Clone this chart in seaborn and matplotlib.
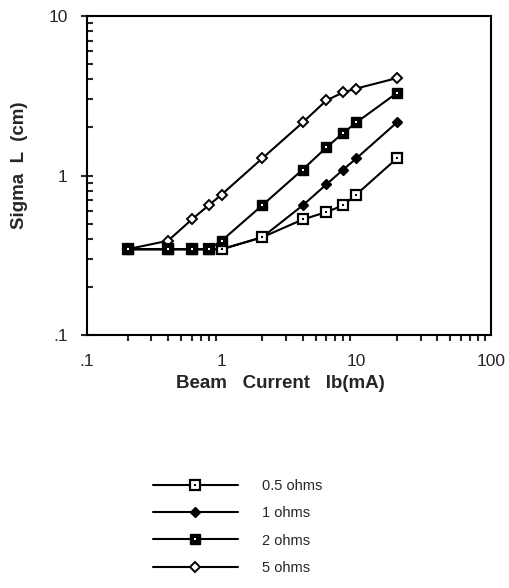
import numpy as np
import pandas as pd
import matplotlib
matplotlib.use("Agg")
import matplotlib.pyplot as plt
from matplotlib.ticker import FixedLocator, FixedFormatter, NullFormatter, LogLocator
from matplotlib.legend_handler import HandlerTuple
import seaborn as sns

sns.set_style("white")
plt.rcParams['font.family'] = ['Liberation Sans', 'DejaVu Sans']

# ---- data ----
beam_current = [0.2, 0.4, 0.6, 0.8, 1, 2, 4, 6, 8, 10, 20]
sigma_05 = [0.345, 0.345, 0.345, 0.345, 0.345, 0.41, 0.53, 0.59, 0.65, 0.76, 1.28]
sigma_1 = [0.345, 0.345, 0.345, 0.345, 0.345, 0.41, 0.65, 0.88, 1.09, 1.28, 2.15]
sigma_2 = [0.345, 0.345, 0.345, 0.345, 0.39, 0.65, 1.09, 1.50, 1.85, 2.15, 3.29]
sigma_5 = [0.345, 0.39, 0.53, 0.65, 0.76, 1.28, 2.15, 2.96, 3.32, 3.51, 4.08]
series_labels = ["0.5 ohms", "1 ohms", "2 ohms", "5 ohms"]
x_ticks = [0.1, 1, 10, 100]
x_tick_labels = [".1", "1", "10", "100"]
y_ticks = [0.1, 1, 10]
y_tick_labels = [".1", "1", "10"]

fig = plt.figure(figsize=(5.1, 5.88), dpi=100)
ax = fig.add_axes([87/510, 1-335/588, 404/510, 319/588])

styles = {
    "0.5 ohms": dict(marker="s", mfc="white", ms=6.5, mew=1.6, dot="black"),
    "1 ohms": dict(marker="D", mfc="black", ms=5.5, mew=1.0, dot=None),
    "2 ohms": dict(marker="s", mfc="black", ms=7.5, mew=1.0, dot="white"),
    "5 ohms": dict(marker="D", mfc="white", ms=5.5, mew=1.4, dot=None),
}
series = {"0.5 ohms": sigma_05, "1 ohms": sigma_1, "2 ohms": sigma_2, "5 ohms": sigma_5}
draw_order = ["5 ohms", "1 ohms", "0.5 ohms", "2 ohms"]

handles = {}
for z, lab in enumerate(draw_order):
    st = styles[lab]
    df = pd.DataFrame({"x": beam_current, "y": series[lab]})
    n_before = len(ax.lines)
    sns.lineplot(data=df, x="x", y="y", ax=ax, color="black", lw=1.5,
                 marker=st["marker"], markerfacecolor=st["mfc"],
                 markeredgecolor="black", markersize=st["ms"], markeredgewidth=st["mew"],
                 zorder=3 + 2*z, legend=False)
    line = ax.lines[n_before]
    h = [line]
    if st["dot"] is not None:
        n_before = len(ax.lines)
        ax.plot(df["x"], df["y"], ls="none", marker="s", ms=1.6, mfc=st["dot"],
                mec=st["dot"], mew=0, zorder=4 + 2*z)
        h.append(ax.lines[n_before])
    handles[lab] = tuple(h)

ax.set_xscale("log")
ax.set_yscale("log")
ax.set_xlim(0.1, 100)
ax.set_ylim(0.1, 10)

ax.xaxis.set_major_locator(FixedLocator(x_ticks))
ax.xaxis.set_major_formatter(FixedFormatter(x_tick_labels))
ax.yaxis.set_major_locator(FixedLocator(y_ticks))
ax.yaxis.set_major_formatter(FixedFormatter(y_tick_labels))
ax.xaxis.set_minor_locator(LogLocator(base=10, subs=np.arange(2, 10)))
ax.yaxis.set_minor_locator(LogLocator(base=10, subs=np.arange(2, 10)))
ax.xaxis.set_minor_formatter(NullFormatter())
ax.yaxis.set_minor_formatter(NullFormatter())

ax.tick_params(axis="x", which="major", direction="inout", length=8, width=1.5, labelsize=12.5, pad=10)
ax.tick_params(axis="x", which="minor", direction="out", length=4, width=1.5, bottom=True)
ax.tick_params(axis="y", which="major", direction="inout", length=8, width=1.5, labelsize=12.5, pad=10, left=True)
ax.tick_params(axis="y", which="minor", direction="in", length=4, width=1.5, left=True)

for s in ax.spines.values():
    s.set_linewidth(1.5)
    s.set_color("black")

ax.set_xlabel("Beam   Current   Ib(mA)", fontsize=13.5, fontweight="bold")
ax.set_ylabel("Sigma  L  (cm)", fontsize=13.5, fontweight="bold")
ax.xaxis.set_label_coords((280 - 87) / 404, -(384 - 335) / 319)
ax.yaxis.set_label_coords(-(87 - 20) / 404, (335 - 165) / 319)
ax.xaxis.label.set_va("center")
ax.yaxis.label.set_va("center")

leg = fig.legend([handles[l] for l in series_labels], series_labels,
                 handler_map={tuple: HandlerTuple(ndivide=1, pad=0)},
                 loc="center", bbox_to_anchor=(238/510, 1-527/588),
                 frameon=False, fontsize=10.5, handlelength=5.8, handletextpad=1.7,
                 labelspacing=0.9, numpoints=1)

fig.savefig("out.png", dpi=100)
